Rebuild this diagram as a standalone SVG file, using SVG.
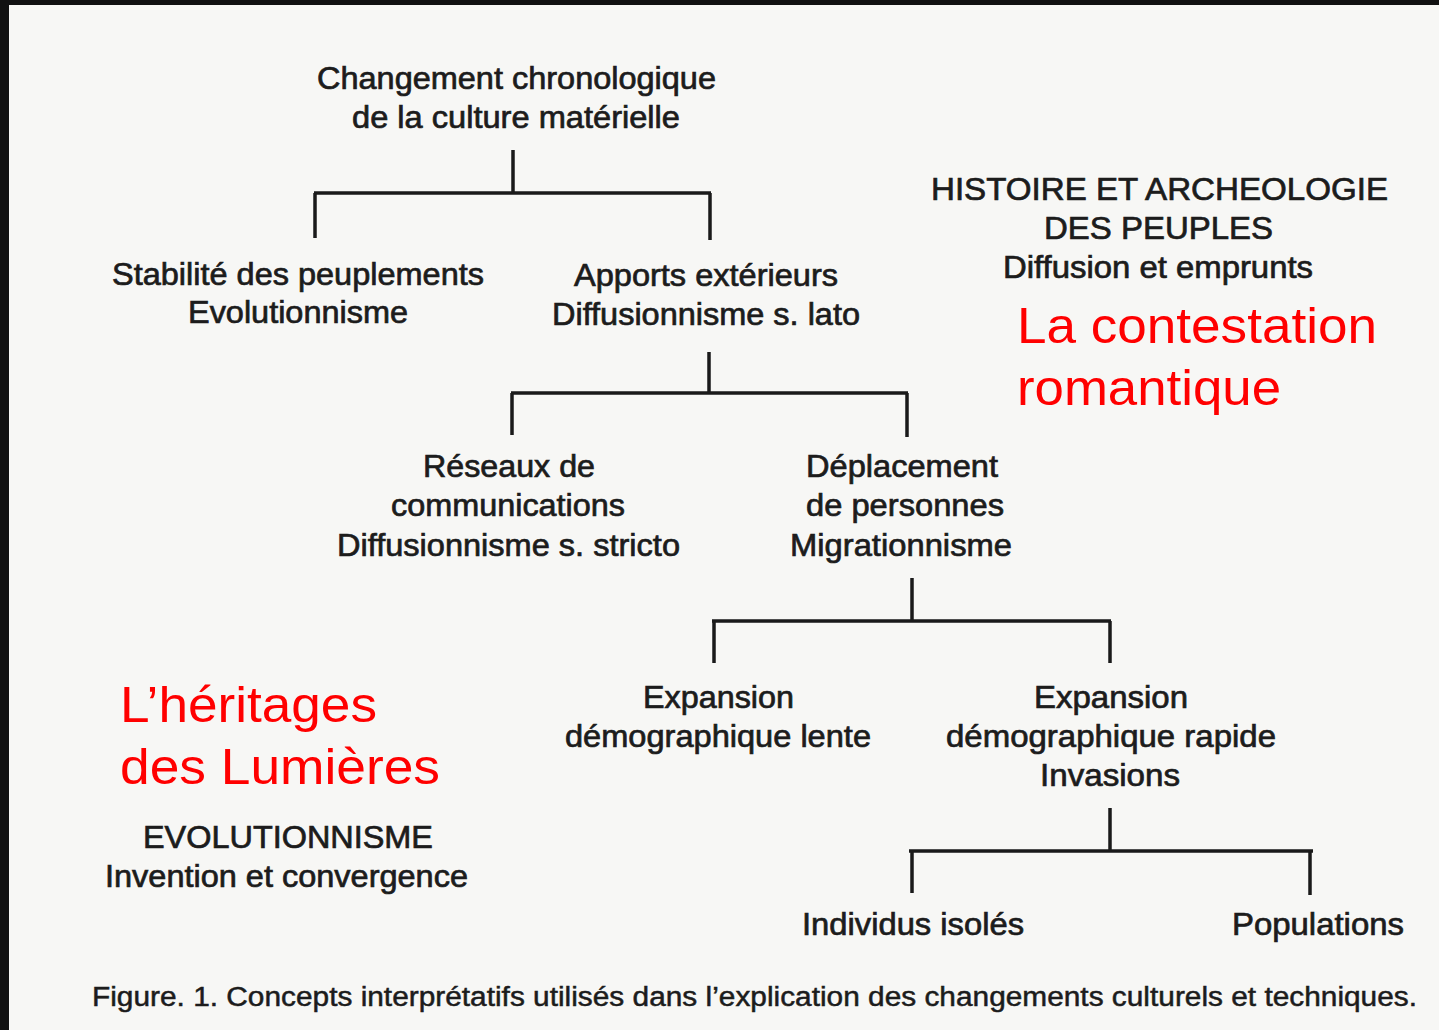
<svg xmlns="http://www.w3.org/2000/svg" width="1439" height="1030" viewBox="0 0 1439 1030">
<style>
.t{font-family:"Liberation Sans",Arial,sans-serif;font-size:31px;fill:#1c1c1c;stroke:#1c1c1c;stroke-width:0.7;text-anchor:middle}
.cap{font-family:"Liberation Sans",Arial,sans-serif;font-size:27px;fill:#1c1c1c;stroke:#1c1c1c;stroke-width:0.5;text-anchor:start}
.r{font-family:"Liberation Sans",Arial,sans-serif;font-size:50px;fill:#ff0000;text-anchor:start}
.c{fill:none;stroke:#1a1a1a;stroke-width:3.5;stroke-linecap:butt;stroke-linejoin:miter}
</style>
<rect x="0" y="0" width="1439" height="1030" fill="#f7f7f5"/>
<rect x="0" y="0" width="1439" height="5" fill="#111"/>
<rect x="0" y="0" width="9" height="1030" fill="#111"/>

<g id="connectors">
<path class="c" d="M513 150 V193 M314 193 H711 M315 193 V238 M710 193 V240"/>
<path class="c" d="M709 352 V393 M511 393 H908 M512 393 V435 M907 393 V437"/>
<path class="c" d="M912 578 V621 M712 621 H1111 M714 621 V663 M1110 621 V663"/>
<path class="c" d="M1110 808 V851 M909 851 H1313 M912 851 V893 M1310 851 V895"/>
</g>

<g id="root">
<text class="t" x="516.5" y="89" textLength="399" lengthAdjust="spacingAndGlyphs">Changement chronologique</text>
<text class="t" x="516" y="128" textLength="328" lengthAdjust="spacingAndGlyphs">de la culture matérielle</text>
</g>
<g id="stabilite">
<text class="t" x="298" y="285" textLength="372" lengthAdjust="spacingAndGlyphs">Stabilité des peuplements</text>
<text class="t" x="298" y="323" textLength="220" lengthAdjust="spacingAndGlyphs">Evolutionnisme</text>
</g>
<g id="apports">
<text class="t" x="706" y="286" textLength="264" lengthAdjust="spacingAndGlyphs">Apports extérieurs</text>
<text class="t" x="706" y="325" textLength="308" lengthAdjust="spacingAndGlyphs">Diffusionnisme s. lato</text>
</g>
<g id="reseaux">
<text class="t" x="509" y="477" textLength="172" lengthAdjust="spacingAndGlyphs">Réseaux de</text>
<text class="t" x="508" y="516" textLength="234" lengthAdjust="spacingAndGlyphs">communications</text>
<text class="t" x="508.5" y="556" textLength="343" lengthAdjust="spacingAndGlyphs">Diffusionnisme s. stricto</text>
</g>
<g id="deplacement">
<text class="t" x="902" y="477" textLength="192" lengthAdjust="spacingAndGlyphs">Déplacement</text>
<text class="t" x="905" y="516" textLength="198" lengthAdjust="spacingAndGlyphs">de personnes</text>
<text class="t" x="901" y="556" textLength="222" lengthAdjust="spacingAndGlyphs">Migrationnisme</text>
</g>
<g id="lente">
<text class="t" x="718.5" y="708" textLength="151" lengthAdjust="spacingAndGlyphs">Expansion</text>
<text class="t" x="718" y="747" textLength="306" lengthAdjust="spacingAndGlyphs">démographique lente</text>
</g>
<g id="rapide">
<text class="t" x="1111" y="708" textLength="154" lengthAdjust="spacingAndGlyphs">Expansion</text>
<text class="t" x="1111" y="747" textLength="330" lengthAdjust="spacingAndGlyphs">démographique rapide</text>
<text class="t" x="1110" y="786" textLength="140" lengthAdjust="spacingAndGlyphs">Invasions</text>
</g>
<g id="individus">
<text class="t" x="913" y="935" textLength="222" lengthAdjust="spacingAndGlyphs">Individus isolés</text>
</g>
<g id="populations">
<text class="t" x="1318" y="935" textLength="172" lengthAdjust="spacingAndGlyphs">Populations</text>
</g>
<g id="histoire">
<text class="t" x="1159.5" y="200" textLength="457" lengthAdjust="spacingAndGlyphs">HISTOIRE ET ARCHEOLOGIE</text>
<text class="t" x="1158.5" y="239" textLength="229" lengthAdjust="spacingAndGlyphs">DES PEUPLES</text>
<text class="t" x="1158" y="278" textLength="310" lengthAdjust="spacingAndGlyphs">Diffusion et emprunts</text>
</g>
<g id="evolutionnisme">
<text class="t" x="288" y="848" textLength="290" lengthAdjust="spacingAndGlyphs">EVOLUTIONNISME</text>
<text class="t" x="286.5" y="887" textLength="363" lengthAdjust="spacingAndGlyphs">Invention et convergence</text>
</g>
<g id="contestation">
<text class="r" x="1017" y="343" textLength="360" lengthAdjust="spacingAndGlyphs">La contestation</text>
<text class="r" x="1017" y="405" textLength="264" lengthAdjust="spacingAndGlyphs">romantique</text>
</g>
<g id="lumieres">
<text class="r" x="120" y="722" textLength="257" lengthAdjust="spacingAndGlyphs">L’héritages</text>
<text class="r" x="120" y="784" textLength="320" lengthAdjust="spacingAndGlyphs">des Lumières</text>
</g>
<g id="caption">
<text class="cap" x="92" y="1006" textLength="1325" lengthAdjust="spacingAndGlyphs">Figure. 1. Concepts interprétatifs utilisés dans l’explication des changements culturels et techniques.</text>
</g>
</svg>
